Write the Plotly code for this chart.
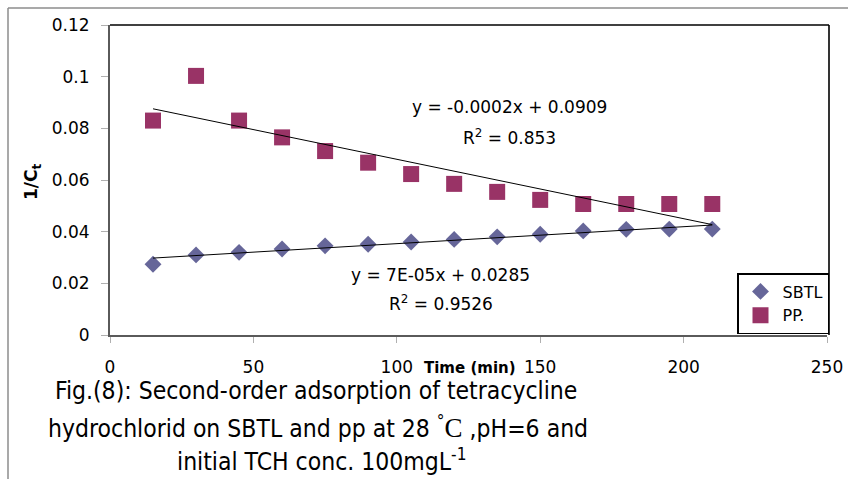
import numpy as np
import plotly.graph_objects as go

# Contact time (min)
time_min = [15, 30, 45, 60, 75, 90, 105, 120, 135, 150, 165, 180, 195, 210]

# 1/Ct for each adsorbent
sbtl = [0.0274, 0.0310, 0.0320, 0.0333, 0.0345, 0.0351, 0.0360, 0.0370,
        0.0380, 0.0390, 0.0403, 0.0409, 0.0410, 0.0410]
pp = [0.0830, 0.1003, 0.0830, 0.0765, 0.0712, 0.0667, 0.0623, 0.0585,
      0.0554, 0.0523, 0.0507, 0.0507, 0.0507, 0.0507]

x_ticks = [0, 50, 100, 150, 200, 250]
y_ticks = [0, 0.02, 0.04, 0.06, 0.08, 0.1, 0.12]
y_tick_text = ["0", "0.02", "0.04", "0.06", "0.08", "0.1", "0.12"]

sbtl_eq = ["y = 7E-05x + 0.0285", "R<sup>2</sup> = 0.9526"]
pp_eq = ["y = -0.0002x + 0.0909", "R<sup>2</sup> = 0.853"]

caption = [
    "Fig.(8): Second-order adsorption of tetracycline",
    "hydrochlorid on SBTL and pp at 28 <sup>°</sup>"
    "<span style='font-family:Liberation Serif;font-size:27px'>C</span> ,pH=6 and",
    "initial TCH conc. 100mgL<sup>-1</sup>",
]

W, H = 848, 479
FONT = "DejaVu Sans"
CAP_FONT = "Liberation Sans Narrow, DejaVu Sans Condensed, Liberation Sans"


def px(x):
    return x / W


def py(y):
    return 1 - y / H


def linear_fit(x, y):
    slope, intercept = np.polyfit(np.asarray(x, float), np.asarray(y, float), 1)
    xs = np.array([min(x), max(x)], float)
    return xs, slope * xs + intercept


fig = go.Figure()

fig.add_trace(go.Scatter(
    x=time_min, y=sbtl, mode="markers", name="SBTL",
    marker=dict(symbol="diamond", size=13, color="#666699"),
))
fig.add_trace(go.Scatter(
    x=time_min, y=pp, mode="markers", name="PP.",
    marker=dict(symbol="square", size=16, color="#993366"),
))

for series in (pp, sbtl):
    fx, fy = linear_fit(time_min, series)
    fig.add_trace(go.Scatter(
        x=fx, y=fy, mode="lines", showlegend=False, hoverinfo="skip",
        line=dict(color="black", width=1),
    ))

annotations = []


def label(text, x, y, size=17, family=FONT, bold=False, angle=0):
    if bold:
        text = "<b>" + text + "</b>"
    annotations.append(dict(
        text=text, x=px(x), y=py(y), xref="paper", yref="paper",
        xanchor="center", yanchor="middle", showarrow=False, textangle=angle,
        font=dict(family=family, size=size, color="black"),
    ))


label(pp_eq[0], 509, 107, size=17)
label(pp_eq[1], 510, 137, size=17)
label(sbtl_eq[0], 440, 275, size=17)
label(sbtl_eq[1], 441, 303, size=17)

label("Time (min)", 470, 368, size=15, bold=True)
label("1/C<sub>t</sub>", 32, 182, size=17, bold=True, angle=-90)

label(caption[0], 316, 390, size=24.5, family=CAP_FONT)
label(caption[1], 318, 427, size=24.5, family=CAP_FONT)
label(caption[2], 321, 460, size=24.5, family=CAP_FONT)

shapes = [
    # plot frame: top and right edges
    dict(type="line", xref="paper", yref="paper", x0=px(110), x1=px(829),
         y0=py(25), y1=py(25), line=dict(color="black", width=1.6)),
    dict(type="line", xref="paper", yref="paper", x0=px(829), x1=px(829),
         y0=py(25), y1=py(335), line=dict(color="black", width=1.6)),
    # outer chart border
    dict(type="line", xref="paper", yref="paper", x0=px(8), x1=px(8),
         y0=py(8), y1=0, line=dict(color="#8c8c8c", width=1.5)),
    dict(type="line", xref="paper", yref="paper", x0=px(8), x1=1,
         y0=py(8), y1=py(8), line=dict(color="#8c8c8c", width=1.5)),
]

fig.update_layout(
    width=W, height=H,
    margin=dict(l=0, r=0, t=0, b=0, pad=0, autoexpand=False),
    paper_bgcolor="white", plot_bgcolor="white",
    font=dict(family=FONT, size=17, color="black"),
    showlegend=True,
    legend=dict(
        x=px(829), y=py(334), xanchor="right", yanchor="bottom",
        bgcolor="white", bordercolor="black", borderwidth=1.5,
        font=dict(family=FONT, size=16, color="black"),
        tracegroupgap=0, itemwidth=34,
    ),
    xaxis=dict(
        domain=[px(110), px(827)], range=[0, 250], automargin=False,
        tickvals=x_ticks, ticktext=[str(v) for v in x_ticks],
        showgrid=False, zeroline=False,
        showline=True, linecolor="#5a5a5a", linewidth=2,
        ticks="outside", ticklen=6, tickcolor="#b0b0b0", tickwidth=1,
        ticklabelstandoff=10,
        tickfont=dict(family=FONT, size=17, color="black"),
    ),
    yaxis=dict(
        domain=[py(335), py(25)], range=[0, 0.12], automargin=False,
        tickvals=y_ticks, ticktext=y_tick_text,
        showgrid=False, zeroline=False,
        showline=True, linecolor="#5a5a5a", linewidth=2,
        ticks="outside", ticklen=7, tickcolor="#b0b0b0", tickwidth=1,
        ticklabelstandoff=8,
        tickfont=dict(family=FONT, size=17, color="black"),
    ),
    annotations=annotations,
    shapes=shapes,
)

fig.write_html("out.html")
